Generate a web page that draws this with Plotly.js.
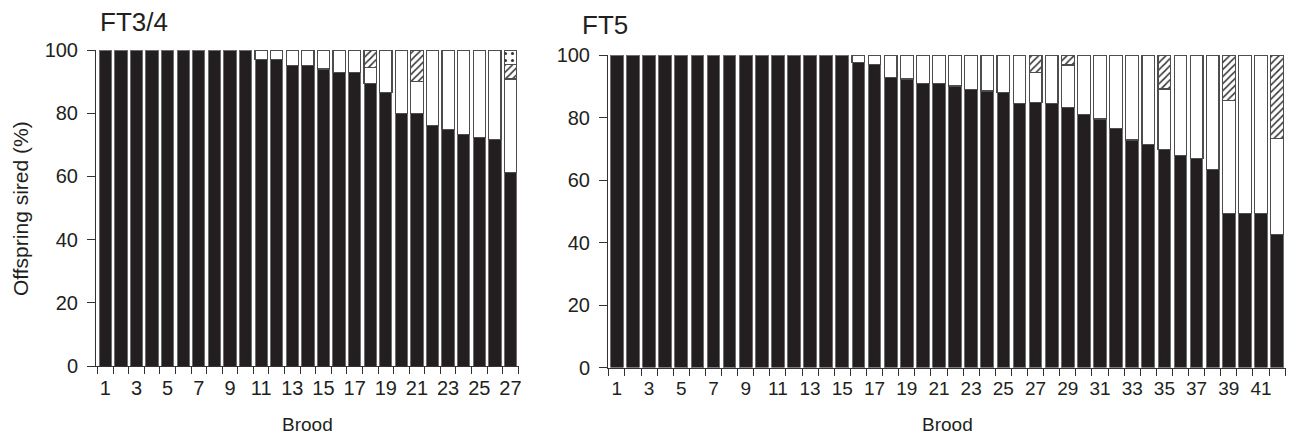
<!DOCTYPE html>
<html><head><meta charset="utf-8">
<script src="https://cdn.plot.ly/plotly-3.0.1.min.js"></script>
<style>html,body{margin:0;padding:0;background:#fff}#chart{width:1290px;height:439px}</style>
</head><body><div id="chart"></div>
<script>
// ---- FT3/4 panel ----
const broodFT34 = [1,2,3,4,5,6,7,8,9,10,11,12,13,14,15,16,17,18,19,20,21,22,23,24,25,26,27];
const blackFT34 = [100,100,100,100,100,100,100,100,100,100,97,97,95,95,94,93,93,89.5,86.6,79.8,79.8,76,74.8,73.2,72.4,71.8,61.2];
const whiteFT34 = [null,null,null,null,null,null,null,null,null,null,3,3,5,5,6,7,7,5,13.4,20.2,10.2,24,25.2,26.8,27.6,28.2,29.6];
const hatchFT34 = [null,null,null,null,null,null,null,null,null,null,null,null,null,null,null,null,null,5.5,null,null,10,null,null,null,null,null,4.5];
const dotFT34   = [null,null,null,null,null,null,null,null,null,null,null,null,null,null,null,null,null,null,null,null,null,null,null,null,null,null,4.7];
const ticksFT34 = [1,3,5,7,9,11,13,15,17,19,21,23,25,27];

// ---- FT5 panel ----
const broodFT5 = [1,2,3,4,5,6,7,8,9,10,11,12,13,14,15,16,17,18,19,20,21,22,23,24,25,26,27,28,29,30,31,32,33,34,35,36,37,38,39,40,41,42];
const blackFT5 = [100,100,100,100,100,100,100,100,100,100,100,100,100,100,100,97.5,97,92.9,92.3,90.8,90.8,90.1,88.9,88.5,88,84.6,84.7,84.6,83.3,81,79.5,76.4,72.8,71.3,69.7,67.9,66.8,63.4,49.3,49.3,49.3,42.6];
const whiteFT5 = [null,null,null,null,null,null,null,null,null,null,null,null,null,null,null,2.5,3,7.1,7.7,9.2,9.2,9.9,11.1,11.5,12,15.4,9.8,15.4,13.5,19,20.5,23.6,27.2,28.7,19.4,32.1,33.2,36.6,36.1,50.7,50.7,30.7];
const hatchFT5 = [null,null,null,null,null,null,null,null,null,null,null,null,null,null,null,null,null,null,null,null,null,null,null,null,null,null,5.5,null,3.2,null,null,null,null,null,10.9,null,null,null,14.6,null,null,26.7];
const ticksFT5 = [1,3,5,7,9,11,13,15,17,19,21,23,25,27,29,31,33,35,37,39,41];

const ink = '#231f20';
const font = 'Liberation Sans, Arial, Helvetica, sans-serif';

function blackTrace(x, y, xa, ya){
  return {type:'bar', x:x, y:y, xaxis:xa, yaxis:ya, showlegend:false, hoverinfo:'skip',
    marker:{color:ink, line:{color:'#6e6e6e', width:1}}};
}
function whiteTrace(x, y, xa, ya){
  return {type:'bar', x:x, y:y, xaxis:xa, yaxis:ya, showlegend:false, hoverinfo:'skip',
    marker:{color:'#ffffff', line:{color:'#4d4d4d', width:1.2}}};
}
function hatchTrace(x, y, xa, ya){
  return {type:'bar', x:x, y:y, xaxis:xa, yaxis:ya, showlegend:false, hoverinfo:'skip',
    marker:{color:'#ffffff', line:{color:'#4d4d4d', width:1.2},
      pattern:{shape:'/', fgcolor:'#333333', bgcolor:'#ffffff', size:5, solidity:0.3}}};
}
function dotTrace(x, y, xa, ya){
  return {type:'bar', x:x, y:y, xaxis:xa, yaxis:ya, showlegend:false, hoverinfo:'skip',
    marker:{color:'#ffffff', line:{color:'#4d4d4d', width:1.2},
      pattern:{shape:'.', fgcolor:'#333333', bgcolor:'#ffffff', size:7, solidity:0.15}}};
}

const data = [
  blackTrace(broodFT34, blackFT34, 'x', 'y'),
  whiteTrace(broodFT34, whiteFT34, 'x', 'y'),
  hatchTrace(broodFT34, hatchFT34, 'x', 'y'),
  dotTrace(broodFT34, dotFT34, 'x', 'y'),
  blackTrace(broodFT5, blackFT5, 'x2', 'y2'),
  whiteTrace(broodFT5, whiteFT5, 'x2', 'y2'),
  hatchTrace(broodFT5, hatchFT5, 'x2', 'y2')
];

function xAxis(domain, range, ticks, anchor, size){
  return {domain:domain, range:range, anchor:anchor, tickmode:'array', tickvals:ticks,
    ticktext:ticks.map(String), ticks:'', showgrid:false, zeroline:false,
    showline:true, linecolor:'#333', linewidth:1,
    tickfont:{family:font, size:size, color:ink}, ticklabelstandoff:4,
    minor:{tick0:0.5, dtick:1, ticks:'outside', ticklen:7, tickwidth:1, tickcolor:'#333', showgrid:false}};
}
function yAxis(domain, anchor){
  return {domain:domain, range:[0,100], anchor:anchor, tickmode:'array', tickvals:[0,20,40,60,80,100],
    ticks:'outside', ticklen:8, tickwidth:1, tickcolor:'#333', showgrid:false, zeroline:false,
    showline:true, linecolor:'#333', linewidth:1, ticklabelstandoff:5,
    tickfont:{family:font, size:20, color:ink}};
}

const layout = {
  width:1290, height:439, margin:{l:0, r:0, t:0, b:0},
  paper_bgcolor:'#ffffff', plot_bgcolor:'#ffffff',
  barmode:'stack', bargap:0.21, showlegend:false,
  xaxis: xAxis([96/1290, 519/1290], [0.4, 27.55], ticksFT34, 'y', 20),
  yaxis: yAxis([1-366/439, 1-50/439], 'x'),
  xaxis2: xAxis([608/1290, 1286/1290], [0.45, 42.55], ticksFT5, 'y2', 19),
  yaxis2: yAxis([1-367.5/439, 1-55/439], 'x2'),
  annotations:[
    {text:'FT3/4', xref:'paper', yref:'paper', x:98/1290, y:1-22/439, xanchor:'left', yanchor:'middle', showarrow:false, font:{family:font, size:26, color:ink}},
    {text:'FT5', xref:'paper', yref:'paper', x:580/1290, y:1-25/439, xanchor:'left', yanchor:'middle', showarrow:false, font:{family:font, size:26, color:ink}},
    {text:'Offspring sired (%)', xref:'paper', yref:'paper', x:20/1290, y:1-209/439, xanchor:'center', yanchor:'middle', textangle:-90, showarrow:false, font:{family:font, size:21, color:ink}},
    {text:'Brood', xref:'paper', yref:'paper', x:307/1290, y:1-424/439, xanchor:'center', yanchor:'middle', showarrow:false, font:{family:font, size:19, color:ink}},
    {text:'Brood', xref:'paper', yref:'paper', x:947/1290, y:1-424/439, xanchor:'center', yanchor:'middle', showarrow:false, font:{family:font, size:19, color:ink}}
  ]
};

Plotly.newPlot('chart', data, layout, {staticPlot:true, displayModeBar:false});
</script>
</body></html>
